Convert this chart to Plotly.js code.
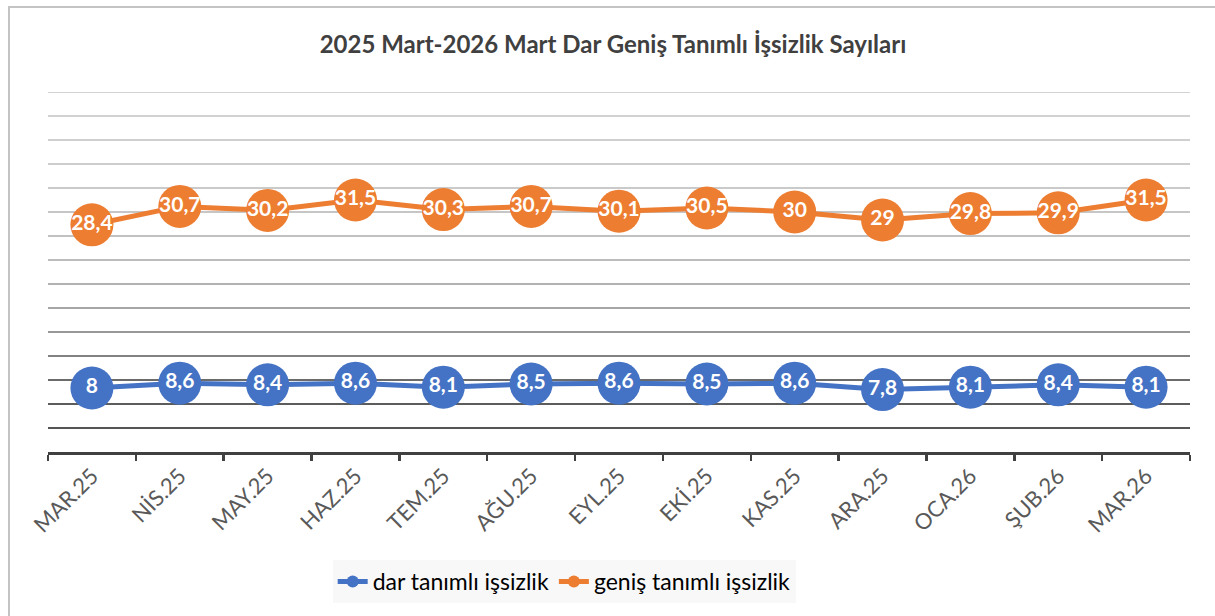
<!DOCTYPE html>
<html>
<head>
<meta charset="utf-8">
<script src="https://cdn.plot.ly/plotly-3.0.1.min.js"></script>
<style>
  html, body { margin: 0; padding: 0; background: #ffffff; overflow: hidden; }
  #chart { position: absolute; left: 0; top: 0; width: 1215px; height: 616px; }
  #frame { position: absolute; left: 8px; top: 6px; width: 1400px; height: 800px;
           border-left: 2px solid #c4c4c4; border-top: 2px solid #c4c4c4; pointer-events: none; }
</style>
</head>
<body>
<div id="chart"></div>
<div id="frame"></div>
<script>
const months = ["MAR.25", "NİS.25", "MAY.25", "HAZ.25", "TEM.25", "AĞU.25", "EYL.25",
                "EKİ.25", "KAS.25", "ARA.25", "OCA.26", "ŞUB.26", "MAR.26"];
const darValues = [8, 8.6, 8.4, 8.6, 8.1, 8.5, 8.6, 8.5, 8.6, 7.8, 8.1, 8.4, 8.1];
const genisValues = [28.4, 30.7, 30.2, 31.5, 30.3, 30.7, 30.1, 30.5, 30, 29, 29.8, 29.9, 31.5];
const seriesNames = ["dar tanımlı işsizlik", "geniş tanımlı işsizlik"];
const gridValues = [3, 6, 9, 12, 15, 18, 21, 24, 27, 30, 33, 36, 39, 42, 45];
const gridColors = ["#1c1c1c", "#262626", "#3a3a3a", "#595959", "#767676", "#8a8a8a", "#999999",
                    "#a6a6a6", "#adadad", "#b3b3b3", "#b8b8b8", "#bcbcbc", "#bfbfbf", "#c2c2c2", "#c4c4c4"];

const fmt = v => String(v).replace('.', ',');
const FONT = "Lato, 'Open Sans', sans-serif";

function makeTrace(vals, name, color) {
  return {
    x: months, y: vals, name: name, type: 'scatter', mode: 'lines+markers+text',
    line: { color: color, width: 5 },
    marker: { color: color, size: 43, line: { width: 0 } },
    text: vals.map(fmt), textposition: 'middle center',
    textfont: { family: FONT, size: 21, color: '#ffffff', weight: 'bold' },
    hoverinfo: 'skip', cliponaxis: false
  };
}

const traces = [
  makeTrace(darValues, seriesNames[0], '#4472C4'),
  makeTrace(genisValues, seriesNames[1], '#ED7D31')
];

const shapes = gridValues.map((v, i) => ({
  type: 'line', xref: 'paper', yref: 'y', x0: 0, x1: 1, y0: v, y1: v,
  line: { color: gridColors[i], width: 1.5 }, layer: 'below'
}));

const layout = {
  width: 1215, height: 616,
  margin: { l: 48, r: 25, t: 92, b: 164 },
  paper_bgcolor: '#ffffff', plot_bgcolor: '#ffffff',
  font: { family: FONT },
  title: {
    text: '2025 Mart-2026 Mart Dar Geniş Tanımlı İşsizlik Sayıları',
    font: { family: FONT, size: 24, color: '#404040', weight: 'bold' },
    x: 0.5045, xref: 'container', xanchor: 'center', y: 0.927, yanchor: 'middle', yref: 'container'
  },
  xaxis: {
    type: 'category', range: [-0.5, 12.5], showgrid: false, zeroline: false,
    showline: true, linecolor: '#404040', linewidth: 2.5,
    ticks: 'outside', tickson: 'boundaries', ticklen: 6, tickwidth: 2.5, tickcolor: '#404040',
    tickangle: -45, tickfont: { family: FONT, size: 22, color: '#595959' }, fixedrange: true
  },
  yaxis: {
    range: [0, 45], showgrid: false, zeroline: false, showline: false,
    showticklabels: false, ticks: '', fixedrange: true
  },
  shapes: shapes,
  showlegend: true,
  legend: {
    orientation: 'h', x: 0.452, xanchor: 'center', y: -0.3, yanchor: 'top',
    bgcolor: '#f8f8f8', font: { family: FONT, size: 23, color: '#000000' },
    itemsizing: 'constant', traceorder: 'normal'
  },
  hovermode: false
};

Plotly.newPlot('chart', traces, layout, { displayModeBar: false, staticPlot: true });
</script>
</body>
</html>
